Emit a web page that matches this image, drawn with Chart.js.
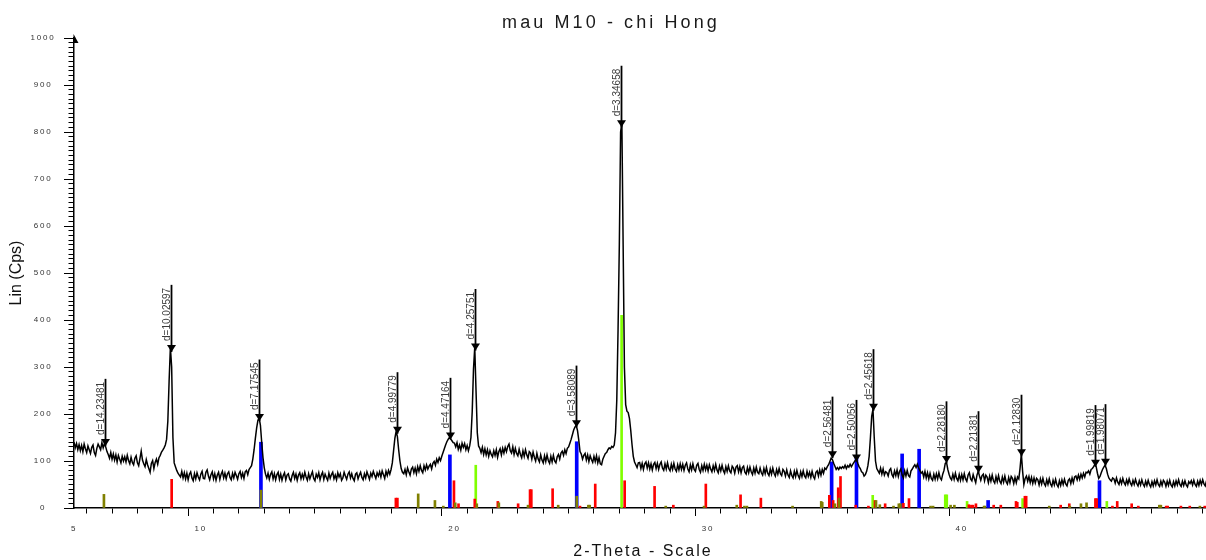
<!DOCTYPE html>
<html>
<head>
<meta charset="utf-8">
<title>mau M10 - chi Hong</title>
<script src="https://cdn.jsdelivr.net/npm/chart.js@4.4.0/dist/chart.umd.min.js"></script>
<style>
  html, body { margin: 0; padding: 0; background: #fff; }
  canvas { display: block; }
</style>
</head>
<body>
<canvas id="xrd" width="1206" height="560"></canvas>
<script>
// Scan: counts recorded every 0.05 degree 2-theta, starting at 5.00
const scanStart = 5.0;
const scanStep = 0.05;
const counts = [
  140,128,137,124,135,122,133,120,136,126,118,132,124,116,129,134,118,112,127,136, // 5
  130,124,139,128,137,130,120,114,106,118,104,115,102,113,98,112,104,96,110,100,   // 6
  109,98,112,101,94,108,97,92,106,111,96,90,105,121,102,94,88,103,92,84,           // 7
  76,95,101,84,97,104,93,107,112,119,123,128,134,146,185,270,342,300,150,96,       // 8
  88,80,74,70,66,78,64,75,62,74,60,72,77,64,58,73,62,75,66,60,                     // 9
  72,78,63,62,76,81,68,60,71,77,62,73,59,70,76,61,72,78,64,74,                     // 10
  62,73,77,65,60,74,64,76,69,61,73,78,65,74,63,77,80,71,82,86,                     // 11
  90,104,124,148,170,186,192,176,140,108,86,72,64,74,61,72,77,62,73,60,            // 12
  71,76,61,72,59,69,75,60,70,73,62,57,69,76,63,72,59,70,75,62,                     // 13
  72,63,76,66,59,73,62,70,77,63,58,72,65,75,60,70,76,61,72,65,                     // 14
  59,74,63,71,76,62,70,60,75,66,73,59,64,76,68,61,72,77,64,73,                     // 15
  63,58,72,75,62,70,76,65,60,73,64,77,69,61,74,67,78,70,63,75,                     // 16
  68,77,66,79,71,63,78,69,80,72,82,96,122,148,163,152,124,100,84,76,               // 17
  73,82,71,85,77,70,83,87,75,85,73,88,78,90,80,75,90,81,92,83,                     // 18
  89,93,83,95,99,91,104,97,107,101,110,118,126,134,141,146,150,147,143,139,        // 19
  138,130,139,125,134,123,138,129,137,124,133,122,132,150,205,295,342,250,160,132, // 20
  127,118,129,114,126,113,124,110,122,114,109,122,112,124,108,120,126,113,127,117, // 21
  129,120,131,136,122,117,130,114,127,116,111,125,114,107,122,110,124,113,106,120, // 22
  117,104,119,108,100,116,104,98,113,102,96,111,99,113,101,95,110,98,112,100,      // 23
  96,109,114,104,117,121,112,124,116,127,130,138,146,156,166,172,176,165,145,120,  // 24
  115,104,112,116,102,113,99,111,103,97,110,99,111,96,107,94,92,104,110,116,       // 25
  118,124,128,126,131,129,134,160,230,380,560,800,820,560,300,220,206,203,190,165, // 26
  135,110,98,92,86,96,97,84,95,82,94,98,85,96,83,94,81,93,97,84,                   // 27
  95,82,93,98,85,80,94,83,96,84,79,93,82,95,83,78,92,81,94,82,                     // 28
  93,80,91,96,83,77,92,81,94,82,78,91,95,82,76,90,80,93,81,91,                     // 29
  79,92,83,77,90,80,93,81,75,89,79,91,80,74,88,78,90,79,75,89,                     // 30
  85,74,87,90,77,88,75,86,89,76,72,86,75,87,77,71,85,74,87,76,                     // 31
  73,85,75,70,84,73,86,74,69,83,72,85,74,68,82,72,84,73,69,82,                     // 32
  78,68,81,70,65,79,69,64,78,67,80,69,63,77,67,79,68,64,78,67,                     // 33
  76,65,78,67,62,76,79,68,81,70,82,74,85,82,88,92,99,106,103,95,                   // 34
  89,82,86,82,87,84,88,85,91,84,90,87,93,88,93,97,101,103,95,88,                   // 35
  84,77,75,68,71,78,90,110,150,195,210,150,100,84,79,74,85,72,83,70,               // 36
  77,75,68,80,84,71,66,79,69,81,67,78,83,70,64,79,68,80,69,66,                     // 37
  79,83,88,92,86,93,85,80,74,77,66,78,64,75,62,74,63,59,72,61,                     // 38
  73,62,75,64,60,72,80,95,97,82,72,64,60,72,61,74,63,58,71,59,                     // 39
  71,60,73,62,57,70,75,62,58,71,62,54,70,78,68,59,69,72,58,70,                     // 40
  66,54,68,57,70,58,53,67,56,69,57,52,66,55,68,56,51,65,54,67,                     // 41
  63,52,65,54,66,62,85,116,78,50,63,68,57,67,54,65,52,64,53,63,                    // 42
  60,49,62,51,63,52,47,60,50,62,51,46,59,49,61,50,45,58,48,60,                     // 43
  50,61,51,47,59,62,52,64,54,66,68,60,70,61,72,64,74,66,76,75,                     // 44
  79,72,82,84,88,93,88,74,63,67,75,82,87,91,84,72,64,60,57,64,                     // 45
  62,53,64,55,50,61,52,63,54,49,60,51,62,53,48,59,50,61,52,47,                     // 46
  58,49,60,51,46,57,48,59,50,45,56,47,58,49,60,50,46,57,48,59,                     // 47
  55,46,57,48,59,49,45,56,47,58,49,60,50,46,57,48,58,49,45,56,                     // 48
  52,58,49,59,50,46,57,48,59,50,60,51,47,58                                        // 49
];

// Peaks picked on the scan (2-theta, marker intensity, d-spacing label)
const peakTheta = [6.22, 8.81, 12.31, 17.72, 19.82, 20.81, 24.79, 26.57, 34.87, 35.83, 36.49, 39.37, 40.63, 42.34, 45.26, 45.65];
const peakCps = [132, 332, 185, 158, 146, 335, 172, 810, 106, 99, 207, 96, 75, 110, 88, 90];
const peakLabels = ['d=14.23481', 'd=10.02597', 'd=7.17545', 'd=4.99779', 'd=4.47164', 'd=4.25751', 'd=3.58089', 'd=3.34658',
                    'd=2.56481', 'd=2.50056', 'd=2.45618', 'd=2.28180', 'd=2.21381', 'd=2.12830', 'd=1.99819', 'd=1.98071'];

// Reference pattern stick lines, one set per phase colour
const oliveTheta = [6.18, 12.37, 18.57, 19.23, 19.56, 20.03, 20.88, 21.75, 22.90, 24.09, 24.82, 25.28, 25.33, 28.33, 29.84, 31.13, 31.43, 31.53, 33.33,
                    34.46, 34.50, 35.00, 35.16, 36.62, 36.77, 37.31, 37.52, 37.58, 38.77, 38.87, 39.56, 39.71, 40.88, 40.91, 43.45, 44.26, 44.70, 44.92, 47.79, 47.85, 49.39];
const oliveCps   = [29, 38, 30, 16, 4, 11, 9, 11, 6, 6, 25, 6, 6, 4, 4, 6, 4, 4, 4,
                    14, 12, 9, 21, 16, 7, 4, 9, 9, 4, 4, 6, 6, 4, 4, 4, 4, 9, 11, 6, 6, 4];

const redTheta = [8.85, 17.69, 17.75, 19.98, 20.16, 20.80, 21.71, 22.51, 22.98, 23.03, 23.87, 24.95, 25.55, 26.71, 27.89, 28.63, 29.91, 31.28, 32.08,
                  34.78, 34.93, 35.13, 35.22, 35.82, 36.32, 36.58, 36.98, 37.70, 37.92, 40.28, 40.38, 40.44, 40.56, 41.26, 41.54, 42.14, 42.19,
                  42.49, 42.54, 43.90, 44.24, 45.27, 45.32, 45.94, 46.13, 46.70, 46.96, 48.06, 48.12, 48.64, 48.99, 49.58];
const redCps   = [61, 21, 21, 58, 9, 19, 14, 9, 39, 39, 41, 4, 51, 58, 46, 6, 51, 28, 21,
                  27, 16, 43, 67, 6, 4, 16, 9, 10, 20, 7, 6, 6, 9, 6, 6, 14, 12,
                  25, 25, 6, 9, 20, 20, 4, 14, 9, 4, 4, 4, 4, 4, 4];

const greenTheta = [20.84, 26.59, 36.49, 39.35, 39.41, 40.21, 42.40, 45.72];
const greenCps   = [91, 410, 27, 28, 28, 14, 20, 14];

const blueTheta = [12.37, 19.82, 24.82, 34.87, 35.85, 37.65, 38.32, 41.04, 45.43];
const blueCps   = [140, 113, 141, 98, 110, 115, 125, 16, 58];

// Axis labels
const xTickLabels = [5, 10, 20, 30, 40];
const yTickLabels = [0, 100, 200, 300, 400, 500, 600, 700, 800, 900, 1000];

const FONT = '"Liberation Sans", Arial, Helvetica, sans-serif';
Chart.defaults.font.family = FONT;

const scanPoints = counts.map((c, i) => ({ x: +(scanStart + i * scanStep).toFixed(2), y: c }));
const sticks = (thetas, cps) => thetas.map((t, i) => ({ x: t, y: cps[i] }));

// Letter spacing for the title, axis title and tick labels (drawn through the library's own routines)
const letterSpacing = {
  id: 'letterSpacing',
  beforeDraw(chart) {
    if (chart.$spacedText) return;
    chart.$spacedText = true;
    const ctx = chart.ctx;
    const wrap = (obj, name, spacing, dx) => {
      if (!obj || typeof obj[name] !== 'function') return;
      const orig = obj[name].bind(obj);
      obj[name] = function (...args) {
        const prev = ctx.letterSpacing;
        ctx.letterSpacing = spacing;
        ctx.save();
        if (dx) ctx.translate(dx, 0);
        orig(...args);
        ctx.restore();
        ctx.letterSpacing = prev || '0px';
      };
    };
    wrap(chart.titleBlock, 'draw', '3.1px', 8);
    wrap(chart.scales.x, 'drawTitle', '2px', 3);
    wrap(chart.scales.x, 'drawLabels', '1.8px', 0);
    wrap(chart.scales.y, 'drawLabels', '1.8px', 0);
  }
};

// Peak markers: down-pointing triangle on the peak, vertical leader line and rotated d-spacing label
const peakMarkers = {
  id: 'peakMarkers',
  afterDatasetsDraw(chart) {
    const { ctx, scales: { x, y } } = chart;
    ctx.save();
    ctx.font = '10px ' + FONT;
    peakTheta.forEach((t, i) => {
      const px = Math.round(x.getPixelForValue(t)) + 0.5;
      const py = y.getPixelForValue(peakCps[i]);
      const tw = ctx.measureText(peakLabels[i]).width;
      const triTop = py - 7;
      const lineTop = triTop - tw - 7;
      ctx.strokeStyle = '#000';
      ctx.lineWidth = 1.8;
      ctx.beginPath();
      ctx.moveTo(px, py);
      ctx.lineTo(px, lineTop);
      ctx.stroke();
      ctx.fillStyle = '#000';
      ctx.beginPath();
      ctx.moveTo(px - 4.5, triTop);
      ctx.lineTo(px + 4.5, triTop);
      ctx.lineTo(px, py);
      ctx.closePath();
      ctx.fill();
      ctx.save();
      ctx.translate(px - 2, triTop - 4);
      ctx.rotate(-Math.PI / 2);
      ctx.fillStyle = '#3c3c3c';
      ctx.textAlign = 'left';
      ctx.textBaseline = 'alphabetic';
      ctx.fillText(peakLabels[i], 0, 0);
      ctx.restore();
    });
    ctx.restore();
  },
  afterDraw(chart) {
    // arrow head at the top of the intensity axis
    const { ctx, chartArea } = chart;
    const ax = chartArea.left;
    const top = chartArea.top;
    ctx.save();
    ctx.fillStyle = '#000';
    ctx.beginPath();
    ctx.moveTo(ax - 0.5, top - 4);
    ctx.lineTo(ax + 4.5, top + 5);
    ctx.lineTo(ax - 0.5, top + 5);
    ctx.closePath();
    ctx.fill();
    ctx.restore();
  }
};

const isLabelled = (list, v) => list.includes(Math.round(v));

new Chart(document.getElementById('xrd'), {
  type: 'line',
  data: {
    datasets: [
      { type: 'line', label: 'scan', data: scanPoints, borderColor: '#000', borderWidth: 1.5,
        pointRadius: 0, tension: 0, fill: false, order: 0 },
      { type: 'bar', label: 'olive', data: sticks(oliveTheta, oliveCps), backgroundColor: '#808000',
        barThickness: 2, grouped: false, borderWidth: 0, order: 1 },
      { type: 'bar', label: 'red', data: sticks(redTheta, redCps), backgroundColor: '#ff0000',
        barThickness: 2, grouped: false, borderWidth: 0, order: 2 },
      { type: 'bar', label: 'green', data: sticks(greenTheta, greenCps), backgroundColor: '#80ff00',
        barThickness: 2, grouped: false, borderWidth: 0, order: 3 },
      { type: 'bar', label: 'blue', data: sticks(blueTheta, blueCps), backgroundColor: '#0000ff',
        barThickness: 3, grouped: false, borderWidth: 0, order: 4 }
    ]
  },
  options: {
    responsive: false,
    animation: false,
    events: [],
    devicePixelRatio: 1,
    layout: { padding: 0 },
    plugins: {
      legend: { display: false },
      tooltip: { enabled: false },
      title: {
        display: true,
        text: 'mau M10 - chi Hong',
        color: '#1a1a1a',
        font: { size: 18, weight: 'normal', lineHeight: 1.2 },
        padding: { top: 12, bottom: 4.4 }
      }
    },
    scales: {
      x: {
        type: 'linear',
        min: 5,
        max: 49.63,
        offset: false,
        afterFit(scale) { scale.height = 52; },
        border: { display: true, color: '#000', width: 1.5 },
        grid: {
          drawOnChartArea: false,
          drawTicks: true,
          tickLength: 8,
          tickColor: '#000',
          tickWidth: 1,
          tickBorderDash: (c) => (c.tick && isLabelled(xTickLabels, c.tick.value)) ? [] : [5, 100]
        },
        ticks: {
          stepSize: 1,
          autoSkip: false,
          maxRotation: 0,
          includeBounds: false,
          padding: 8,
          color: '#333',
          font: { size: 8 },
          callback: (v) => isLabelled(xTickLabels, v) ? String(Math.round(v)) : ''
        },
        title: {
          display: true,
          text: '2-Theta - Scale',
          color: '#111',
          font: { size: 16, lineHeight: 1 },
          padding: { top: 0, bottom: 0 }
        }
      },
      y: {
        type: 'linear',
        min: 0,
        max: 1000,
        afterFit(scale) { scale.width = 74; },
        border: { display: true, color: '#000', width: 1.5 },
        grid: {
          drawOnChartArea: false,
          drawTicks: true,
          tickLength: 10,
          tickColor: '#000',
          tickWidth: 1,
          tickBorderDash: (c) => (c.tick && Math.round(c.tick.value) % 100 === 0) ? [] : [0, 4.5, 10, 100]
        },
        ticks: {
          stepSize: 10,
          autoSkip: false,
          crossAlign: 'center',
          padding: 12,
          color: '#333',
          font: { size: 8 },
          callback: (v) => isLabelled(yTickLabels, v) ? String(Math.round(v)) : ''
        },
        title: {
          display: true,
          text: 'Lin (Cps)',
          color: '#111',
          font: { size: 16 },
          padding: { top: 7, bottom: 0 }
        }
      }
    }
  },
  plugins: [letterSpacing, peakMarkers]
});
</script>
</body>
</html>
